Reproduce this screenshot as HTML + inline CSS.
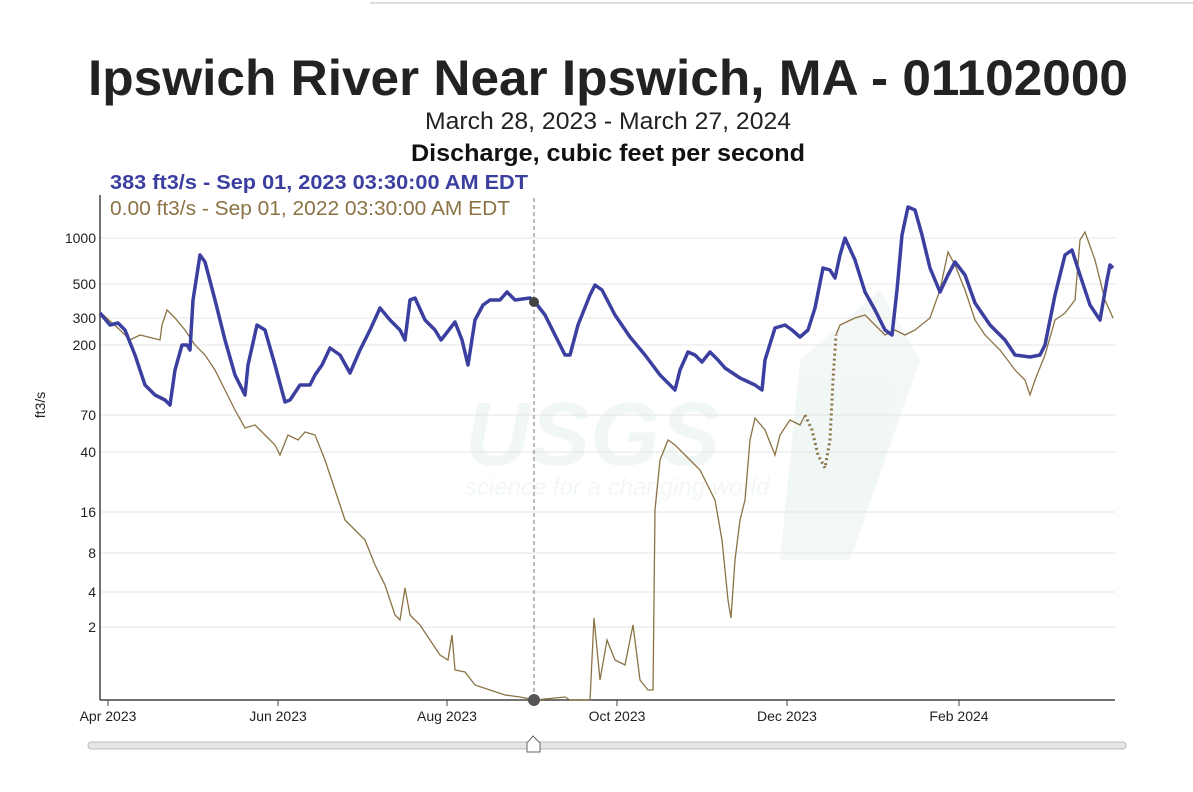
<!DOCTYPE html>
<html><head><meta charset="utf-8"><style>
html,body{margin:0;padding:0;background:#fff;}
svg{display:block;font-family:"Liberation Sans",sans-serif;}
</style></head><body>
<svg width="1193" height="792" viewBox="0 0 1193 792" xmlns="http://www.w3.org/2000/svg">
<line x1="370" y1="3" x2="1193" y2="3" stroke="#ddd" stroke-width="2"/>
<text x="608" y="95" text-anchor="middle" font-size="50" font-weight="bold" fill="#222" textLength="1040" lengthAdjust="spacingAndGlyphs">Ipswich River Near Ipswich, MA - 01102000</text>
<text x="608" y="129" text-anchor="middle" font-size="24" fill="#222" textLength="366" lengthAdjust="spacingAndGlyphs">March 28, 2023 - March 27, 2024</text>
<text x="608" y="161" text-anchor="middle" font-size="24" font-weight="bold" fill="#111" textLength="394" lengthAdjust="spacingAndGlyphs">Discharge, cubic feet per second</text>
<text x="110" y="189" font-size="20" font-weight="bold" fill="#3b3fa0" textLength="418" lengthAdjust="spacingAndGlyphs">383 ft3/s - Sep 01, 2023 03:30:00 AM EDT</text>
<text x="110" y="215" font-size="20" fill="#8b7344" textLength="400" lengthAdjust="spacingAndGlyphs">0.00 ft3/s - Sep 01, 2022 03:30:00 AM EDT</text>
<g opacity="0.05" fill="#0b6e55">
<text x="465" y="465" font-size="90" font-weight="bold" font-style="italic">USGS</text>
<text x="465" y="495" font-size="24" font-style="italic">science for a changing world</text>
<polygon points="800,360 880,290 920,360 850,560 780,560"/>
</g>
<g stroke="#e6e6e6" stroke-width="1">
<line x1="100" x2="1115" y1="238" y2="238"/><line x1="100" x2="1115" y1="284" y2="284"/>
<line x1="100" x2="1115" y1="318" y2="318"/><line x1="100" x2="1115" y1="345" y2="345"/>
<line x1="100" x2="1115" y1="415" y2="415"/><line x1="100" x2="1115" y1="452" y2="452"/>
<line x1="100" x2="1115" y1="512" y2="512"/><line x1="100" x2="1115" y1="553" y2="553"/>
<line x1="100" x2="1115" y1="592" y2="592"/><line x1="100" x2="1115" y1="627" y2="627"/>
</g>
<g font-size="14" fill="#222" text-anchor="end">
<text x="96" y="243">1000</text><text x="96" y="289">500</text><text x="96" y="323">300</text>
<text x="96" y="350">200</text><text x="96" y="420">70</text><text x="96" y="457">40</text>
<text x="96" y="517">16</text><text x="96" y="558">8</text><text x="96" y="597">4</text><text x="96" y="632">2</text>
</g>
<text transform="translate(45,405) rotate(-90)" font-size="14" fill="#222" text-anchor="middle">ft3/s</text>
<line x1="100" y1="195" x2="100" y2="700" stroke="#444" stroke-width="1.5"/>
<line x1="100" y1="700" x2="1115" y2="700" stroke="#444" stroke-width="1.5"/>
<g stroke="#444"><line x1="108" x2="108" y1="700" y2="706"/><line x1="278" x2="278" y1="700" y2="706"/><line x1="447" x2="447" y1="700" y2="706"/><line x1="617" x2="617" y1="700" y2="706"/><line x1="787" x2="787" y1="700" y2="706"/><line x1="959" x2="959" y1="700" y2="706"/></g>
<g font-size="14" fill="#222" text-anchor="middle">
<text x="108" y="721">Apr 2023</text><text x="278" y="721">Jun 2023</text><text x="447" y="721">Aug 2023</text>
<text x="617" y="721">Oct 2023</text><text x="787" y="721">Dec 2023</text><text x="959" y="721">Feb 2024</text>
</g>
<polyline fill="none" stroke="#8b7344" stroke-width="1.3" points="100,312 120,330 130,340 140,335 160,340 162,325 167,310 175,318 185,330 195,345 205,355 215,370 225,390 235,410 245,428 255,425 265,435 275,445 280,455 288,435 298,440 305,432 315,435 325,460 335,490 345,520 355,530 365,540 375,565 385,585 395,615 400,620 405,588 410,615 420,625 430,640 440,655 448,660 452,635 455,670 465,672 475,685 490,690 505,695 520,697 535,700 565,697 570,700 590,700 594,618 600,680 607,640 615,660 625,665 633,625 640,680 648,690 653,690 655,510 660,460 668,440 675,445 685,455 700,470 715,500 722,540 728,600 731,618 735,560 740,520 745,500 750,440 755,418 765,430 775,455 780,435 790,420 800,425 805,415"/>
<polyline fill="none" stroke="#8b7344" stroke-width="3" stroke-dasharray="2 3" points="805,415 812,430 818,455 825,468 830,440 833,380 836,335"/>
<polyline fill="none" stroke="#8b7344" stroke-width="1.3" points="836,335 840,325 855,318 865,315 875,325 885,335 895,330 905,335 915,330 930,318 940,290 948,252 955,265 965,290 975,320 985,335 1000,350 1015,370 1025,380 1030,395 1035,380 1045,355 1055,320 1065,313 1075,300 1080,240 1085,232 1095,260 1105,300 1113,318"/>
<polyline fill="none" stroke="#3b3fa0" stroke-width="3.5" stroke-linejoin="round" points="100,313 110,325 118,323 125,330 135,355 145,385 155,395 165,400 170,405 175,370 182,345 187,345 190,350 193,300 200,255 205,262 215,300 225,340 235,375 245,395 248,365 257,325 265,330 275,365 285,402 290,400 300,385 310,385 315,375 322,365 330,348 340,355 350,373 360,350 370,330 380,308 390,320 400,330 405,340 410,300 415,298 425,320 435,330 441,340 445,335 455,322 462,340 468,365 475,320 483,305 490,300 500,300 507,292 515,300 530,298 535,302 545,315 555,335 565,355 570,355 578,325 590,295 595,285 602,290 615,315 630,337 645,355 660,375 675,390 680,370 688,352 695,355 702,362 710,352 718,360 725,368 740,378 755,385 762,390 765,360 775,328 785,325 792,330 800,337 808,330 815,308 823,268 830,270 835,278 840,255 845,238 855,260 865,292 875,310 885,330 892,335 897,290 902,235 908,207 915,210 922,235 930,268 940,292 948,275 955,262 965,275 975,303 990,325 1005,340 1015,355 1030,357 1040,355 1045,345 1055,295 1065,255 1072,250 1080,275 1090,305 1100,320 1107,280 1110,265 1113,268"/>
<line x1="534" y1="198" x2="534" y2="700" stroke="#777" stroke-dasharray="4 3"/>
<circle cx="534" cy="302" r="5" fill="#444"/>
<circle cx="534" cy="700" r="6" fill="#555"/>
<rect x="88" y="742" width="1038" height="7" rx="3.5" fill="#e6e6e6" stroke="#bbb"/>
<path d="M527,752 L527,743 L533,736 L540,743 L540,752 Z" fill="#fff" stroke="#666"/>
</svg>
</body></html>
